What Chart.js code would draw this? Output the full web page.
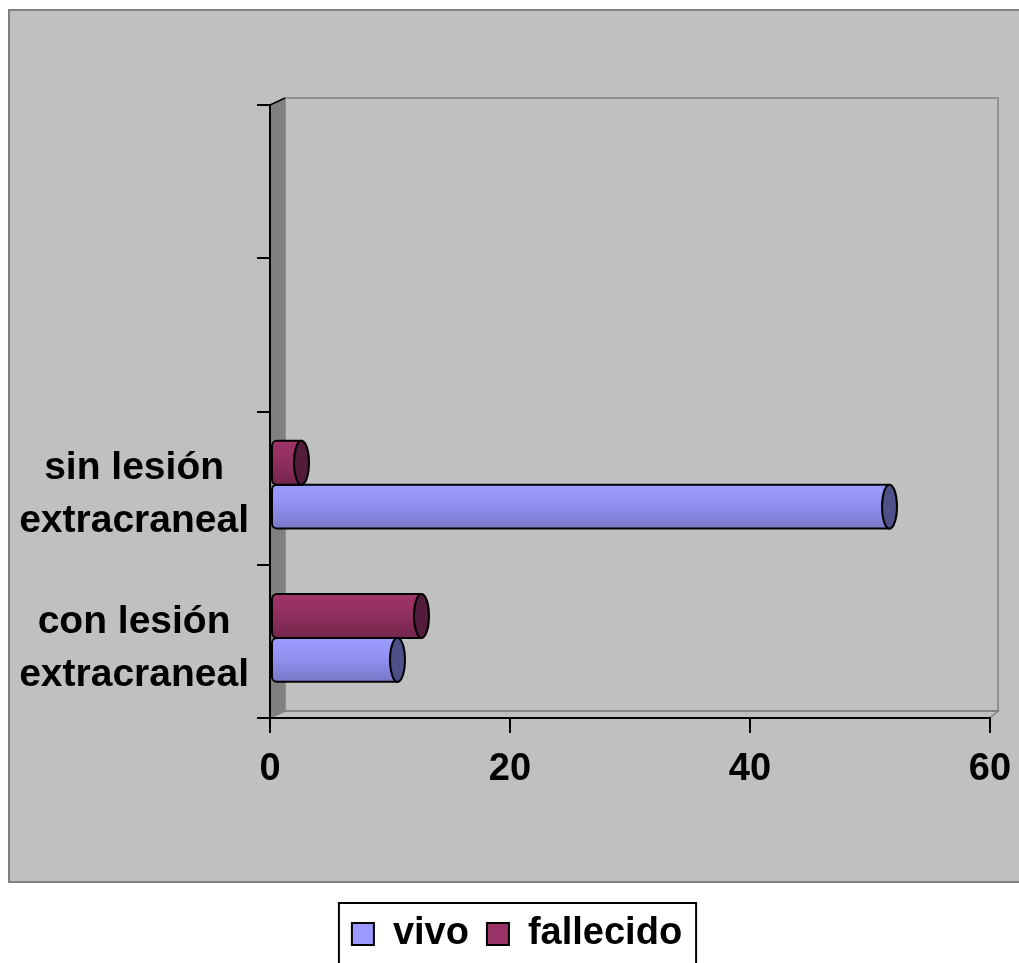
<!DOCTYPE html>
<html>
<head>
<meta charset="utf-8">
<script src="https://cdn.jsdelivr.net/npm/chart.js@4"></script>
<style>
  html, body { margin: 0; padding: 0; background: #fff; }
</style>
</head>
<body>
<canvas id="graphic" width="1019" height="963"></canvas>
<script>
var categories = [['con lesión', 'extracraneal'], ['sin lesión', 'extracraneal'], '', ''];
var seriesNames = ['vivo', 'fallecido'];
var vivoValues = [10, 51, null, null];
var fallecidoValues = [12, 2, null, null];
var xTicks = [0, 20, 40, 60];

var FONT = '"Liberation Sans", Arial, sans-serif';
// oblique offset of the back wall (fake 3D)
var depthX = 15, depthY = -7;

var frame = {
    id: 'frame',
    afterLayout: function (chart) {
        // nudge the legend a bit to the right, like the original
        chart.legend.left += 22;
        chart.legend.right += 22;
    },
    beforeDraw: function (chart) {
        var c = chart.ctx, a = chart.chartArea;
        c.save();
        c.fillStyle = '#c0c0c0';
        c.fillRect(9, 10, chart.width + 20, 872);
        c.strokeStyle = '#808080';
        c.lineWidth = 2;
        c.strokeRect(9, 10, chart.width + 20, 872);

        var l = a.left, r = a.right, t = a.top, b = a.bottom;
        var bl = l + depthX, bt = t + depthY, br = r + 8, bb = b + depthY;
        // back wall
        c.lineWidth = 1.5;
        c.strokeRect(bl, bt, br - bl, bb - bt);
        // floor
        c.beginPath();
        c.moveTo(l, b); c.lineTo(bl, bb); c.lineTo(br, bb); c.lineTo(r, b);
        c.stroke();
        // side wall
        c.fillStyle = '#808080';
        c.beginPath();
        c.moveTo(l, t); c.lineTo(bl, bt); c.lineTo(bl, bb); c.lineTo(l, b);
        c.closePath();
        c.fill();
        c.strokeStyle = '#000';
        c.lineWidth = 1.5;
        c.beginPath(); c.moveTo(l, t); c.lineTo(bl, bt); c.stroke();
        c.restore();
    }
};

var cylinderColors = [
    { top: '#9c9cff', mid: '#9393f3', bottom: '#7878c8', cap: '#4f5088' },
    { top: '#9e3569', mid: '#93305f', bottom: '#74264d', cap: '#521c3a' }
];

var cylinders = {
    id: 'cylinders',
    beforeDatasetsDraw: function (chart) {
        var c = chart.ctx;
        chart.data.datasets.forEach(function (ds, i) {
            var meta = chart.getDatasetMeta(i);
            var col = cylinderColors[i];
            meta.data.forEach(function (bar, j) {
                if (ds.data[j] == null) return;
                var h = bar.height;
                var yTop = bar.y - h / 2 + depthY / 2;
                var x0 = bar.base + 1;
                var rx = depthX / 2;
                var x1 = bar.x + rx;
                c.save();
                var g = c.createLinearGradient(0, yTop, 0, yTop + h);
                g.addColorStop(0, col.top);
                g.addColorStop(0.4, col.mid);
                g.addColorStop(1, col.bottom);
                c.fillStyle = g;
                c.strokeStyle = '#000';
                c.lineWidth = 2;
                c.beginPath();
                c.roundRect(x0, yTop, x1 - x0, h, [5, 0, 0, 5]);
                c.fill();
                c.stroke();
                c.beginPath();
                c.ellipse(x1, yTop + h / 2, rx, h / 2, 0, 0, Math.PI * 2);
                c.fillStyle = col.cap;
                c.fill();
                c.stroke();
                c.restore();
            });
        });
        return false;
    }
};

var legendBox = {
    id: 'legendBox',
    afterDraw: function (chart) {
        var lg = chart.legend, hb = lg.legendHitBoxes;
        if (!hb || !hb.length) return;
        var left = Math.min.apply(null, hb.map(function (h) { return h.left; })) - 13;
        var right = Math.max.apply(null, hb.map(function (h) { return h.left + h.width; })) + 14;
        var top = hb[0].top - 12;
        var c = chart.ctx;
        c.save();
        c.strokeStyle = '#000';
        c.lineWidth = 2;
        c.strokeRect(left, top, right - left, chart.height);
        c.restore();
    }
};

var ctx = document.getElementById('graphic').getContext('2d');

var graphic = new Chart(ctx, {
    type: 'bar',
    data: {
        labels: categories,
        datasets: [{
            label: seriesNames[0],
            data: vivoValues,
            backgroundColor: '#9999ff',
            borderColor: '#000',
            borderWidth: 2,
            order: 1
        }, {
            label: seriesNames[1],
            data: fallecidoValues,
            backgroundColor: '#993366',
            borderColor: '#000',
            borderWidth: 2,
            order: 0
        }]
    },
    options: {
        indexAxis: 'y',
        responsive: false,
        devicePixelRatio: 1,
        animation: false,
        categoryPercentage: 0.574,
        barPercentage: 1,
        layout: { padding: { top: 105, left: 0, right: 29, bottom: 0 } },
        plugins: {
            tooltip: { enabled: false },
            legend: {
                position: 'bottom',
                labels: {
                    boxWidth: 22,
                    boxHeight: 22,
                    color: '#000',
                    padding: 18,
                    font: { family: FONT, size: 38, weight: 'bold' },
                    sort: function (a, b) { return a.datasetIndex - b.datasetIndex; }
                }
            }
        },
        scales: {
            x: {
                min: xTicks[0],
                max: xTicks[xTicks.length - 1],
                ticks: {
                    stepSize: xTicks[1] - xTicks[0],
                    color: '#000',
                    padding: 14,
                    font: { family: FONT, size: 38, weight: 'bold' }
                },
                grid: { drawOnChartArea: false, tickLength: 15, color: '#000', lineWidth: 2 },
                border: { color: '#000', width: 2 },
                afterFit: function (s) {
                    s.height = 179;
                    s.paddingLeft = 0;
                    s.paddingRight = 0;
                }
            },
            y: {
                reverse: true,
                ticks: {
                    color: '#000',
                    padding: 8,
                    labelOffset: 7,
                    crossAlign: 'center',
                    font: { family: FONT, size: 39, weight: 'bold', lineHeight: 1.36 }
                },
                grid: { drawOnChartArea: false, tickLength: 13, color: '#000', lineWidth: 2, offset: true },
                border: { color: '#000', width: 2 },
                afterFit: function (s) { s.width = 270; }
            }
        }
    },
    plugins: [frame, cylinders, legendBox]
});
</script>
</body>
</html>
